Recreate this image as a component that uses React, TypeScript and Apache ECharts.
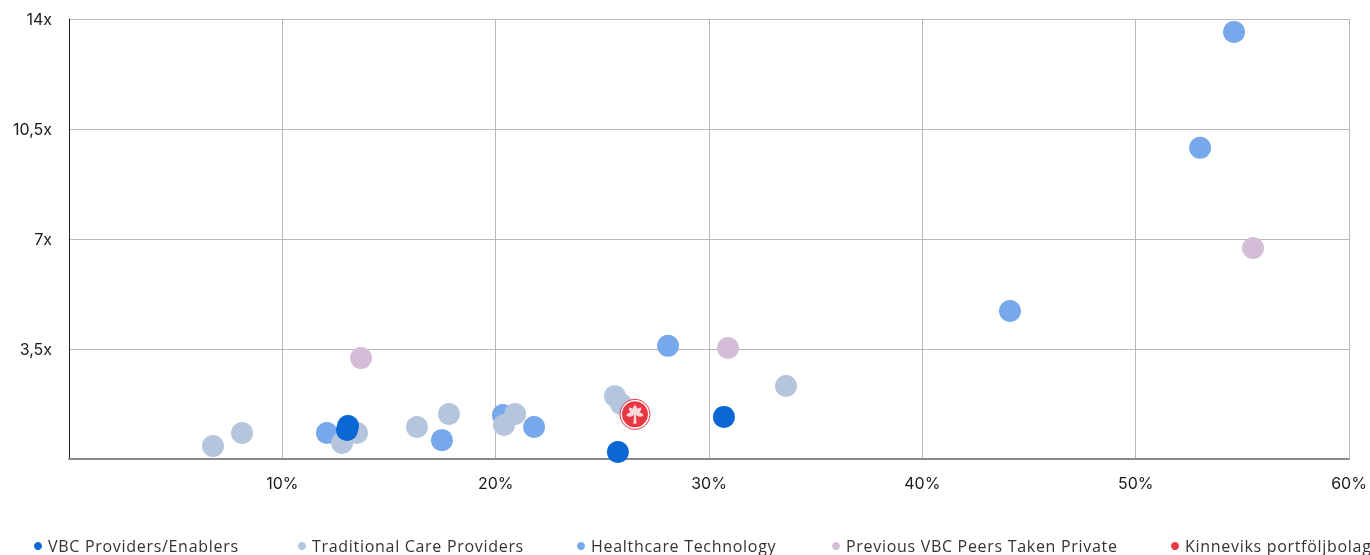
import React, { useEffect, useRef } from "react";
import * as echarts from "echarts";

const vbcX = [13.08, 13.03, 25.73, 30.7];
const vbcY = [1.05, 0.92, 0.22, 1.34];

const tradX = [6.75, 8.11, 12.8, 13.5, 16.31, 17.81, 20.39, 20.91, 25.59, 25.88, 33.61];
const tradY = [0.41, 0.83, 0.51, 0.83, 1.02, 1.43, 1.08, 1.43, 2.0, 1.75, 2.32];

const techX = [54.61, 53.02, 44.11, 28.08, 21.8, 17.48, 12.09, 20.34];
const techY = [13.59, 9.9, 4.71, 3.6, 1.02, 0.6, 0.83, 1.4];

const prevX = [13.69, 30.89, 55.5];
const prevY = [3.21, 3.53, 6.71];

const kinX = [26.53];
const kinY = [1.42];

const xTicks = [0, 10, 20, 30, 40, 50, 60];
const yTicks = [0, 3.5, 7, 10.5, 14];

const NAMES = [
  "VBC Providers/Enablers",
  "Traditional Care Providers",
  "Healthcare Technology",
  "Previous VBC Peers Taken Private",
  "Kinneviks portföljbolag",
];

const COLORS = ["#0B67D3", "#B5C5DD", "#76A8EB", "#D5BDD7", "#E30613"];

const PALM =
  "path://M50 40 Q70 20 50 0 Q30 20 50 40 Z " +
  "M50 40 Q78.2 40 78.3 11.7 Q50 11.8 50 40 Z " +
  "M50 40 Q50 11.8 21.7 11.7 Q21.8 40 50 40 Z " +
  "M50 40 Q66.8 62.8 89.6 45.9 Q72.8 23.2 50 40 Z " +
  "M50 40 Q27.2 23.2 10.4 45.9 Q33.2 62.8 50 40 Z " +
  "M46 37 L43 85 L57 85 L54 37 Z";

const zip = (xs: number[], ys: number[]) => xs.map((x, i) => [x, ys[i]]);

const legendLefts = [34, 298, 577, 832, 1171];

export default function App() {
  const ref = useRef<HTMLDivElement>(null);
  useEffect(() => {
    if (!ref.current) return;
    const chart = echarts.init(ref.current, null, { renderer: "svg" });
    const base = (name: string, color: string, xs: number[], ys: number[]) => ({
      name,
      type: "scatter",
      data: zip(xs, ys),
      symbol: "circle",
      symbolSize: 22,
      itemStyle: { color, opacity: 1 },
      emphasis: { disabled: true },
    });
    chart.setOption({
      animation: false,
      grid: { left: 69, right: 21, top: 19, bottom: 96 },
      legend: NAMES.map((n, i) => ({
        left: legendLefts[i],
        top: 538,
        icon: "circle",
        itemWidth: 10,
        itemHeight: 8,
        itemGap: 0,
        padding: 0,
        selectedMode: false,
        data: [n],
        textStyle: {
          fontFamily: "Open Sans",
          fontSize: 16,
          lineHeight: 16,
          color: "#333",
        },
      })),
      xAxis: {
        type: "value",
        min: xTicks[0],
        max: xTicks[xTicks.length - 1],
        interval: 10,
        axisLine: { show: true, lineStyle: { color: "#8a8a8a", width: 2 } },
        axisTick: { show: false },
        splitLine: { show: true, lineStyle: { color: "#b8b8b8", width: 1 } },
        axisLabel: {
          showMinLabel: false,
          margin: 16,
          fontFamily: "Inter",
          fontSize: 16,
          color: "#1a1a1a",
          formatter: (v: number) => `${v}%`,
        },
      },
      yAxis: {
        type: "value",
        min: yTicks[0],
        max: yTicks[yTicks.length - 1],
        interval: 3.5,
        axisLine: { show: true, lineStyle: { color: "#222", width: 1 } },
        axisTick: { show: false },
        splitLine: { show: true, lineStyle: { color: "#b8b8b8", width: 1 } },
        axisLabel: {
          showMinLabel: false,
          margin: 17,
          fontFamily: "Inter",
          fontSize: 16,
          color: "#1a1a1a",
          formatter: (v: number) => `${String(v).replace(".", ",")}x`,
        },
      },
      series: [
        base(NAMES[2], COLORS[2], techX, techY),
        base(NAMES[1], COLORS[1], tradX, tradY),
        base(NAMES[0], COLORS[0], vbcX, vbcY),
        base(NAMES[3], COLORS[3], prevX, prevY),
        {
          name: "kinRing",
          type: "scatter",
          data: zip(kinX, kinY),
          symbol: "circle",
          symbolSize: 30,
          itemStyle: { color: "#ffffff", borderColor: COLORS[4], borderWidth: 1 },
          emphasis: { disabled: true },
        },
        {
          name: NAMES[4],
          type: "scatter",
          data: zip(kinX, kinY),
          symbol: "circle",
          symbolSize: 26,
          itemStyle: { color: COLORS[4] },
          emphasis: { disabled: true },
        },
        {
          name: "kinPalm",
          type: "scatter",
          data: zip(kinX, kinY),
          symbol: PALM,
          symbolKeepAspect: true,
          symbolSize: [19, 19],
          itemStyle: { color: "#ffffff" },
          emphasis: { disabled: true },
        },
      ],
    });
    return () => chart.dispose();
  }, []);
  return (
    <>
      <style>{`text[style*="Open Sans"]{letter-spacing:0.7px;}`}</style>
      <div
        ref={ref}
        style={{ position: "fixed", left: 0, top: 0, width: 1370, height: 555 }}
      />
    </>
  );
}
